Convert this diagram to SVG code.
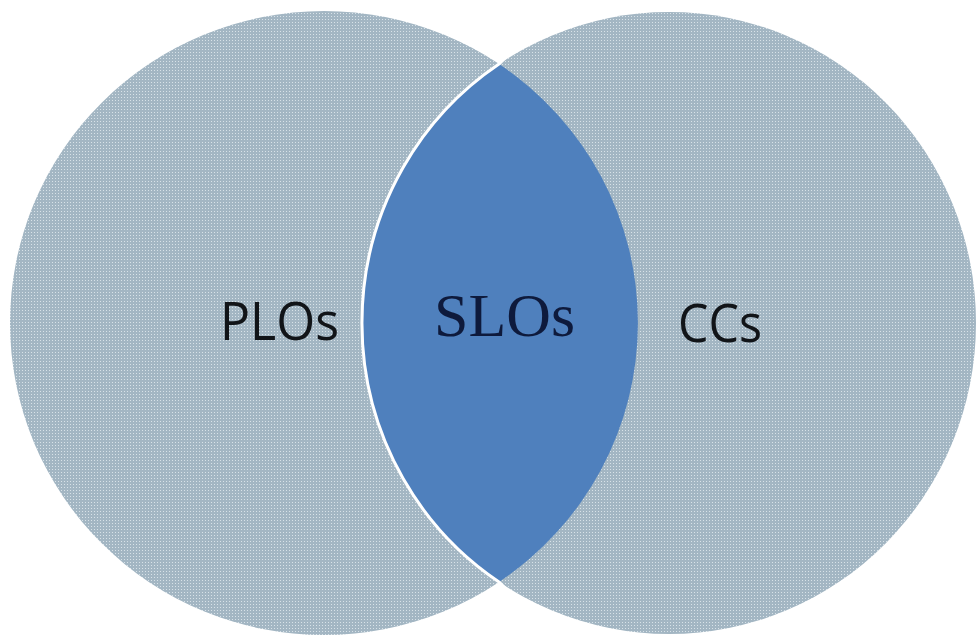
<svg xmlns="http://www.w3.org/2000/svg" width="980" height="639" viewBox="0 0 980 639">
<defs>
<pattern id="dots" width="3" height="3" patternUnits="userSpaceOnUse">
<rect width="3" height="3" fill="#a3b6c3"/>
<rect x="1" y="1" width="1" height="1" fill="#d8e2e8"/>
</pattern>
<style>
.circle{fill:url(#dots);}
.lens{fill:#4f80bd;}
.sans{font-family:"Open Sans","Liberation Sans",sans-serif;font-size:53px;fill:#111418;}
.serif{font-family:"Liberation Serif","DejaVu Serif",serif;font-size:62px;fill:#0e1a3c;}
</style>
</defs>
<rect width="980" height="639" fill="#ffffff"/>
<g id="plos">
<ellipse class="circle" cx="324" cy="323" rx="314" ry="312"/>
</g>
<g id="ccs">
<ellipse class="circle" cx="669" cy="323" rx="307" ry="311"/>
</g>
<g id="slos">
<path class="lens" d="M499 64 A314 312 0 0 1 499 582 A307 311 0 0 1 499 64 Z"/>
<path d="M505 58 L499 64 A307 311 0 0 0 499 582 L505 588" fill="none" stroke="#ffffff" stroke-width="3"/>
</g>
<g id="labels">
<text class="sans" x="220" y="340" textLength="119" lengthAdjust="spacingAndGlyphs">PLOs</text>
<text class="serif" x="434" y="336" textLength="141" lengthAdjust="spacingAndGlyphs">SLOs</text>
<text class="sans" x="678" y="342" textLength="84" lengthAdjust="spacingAndGlyphs">CCs</text>
</g>
</svg>
